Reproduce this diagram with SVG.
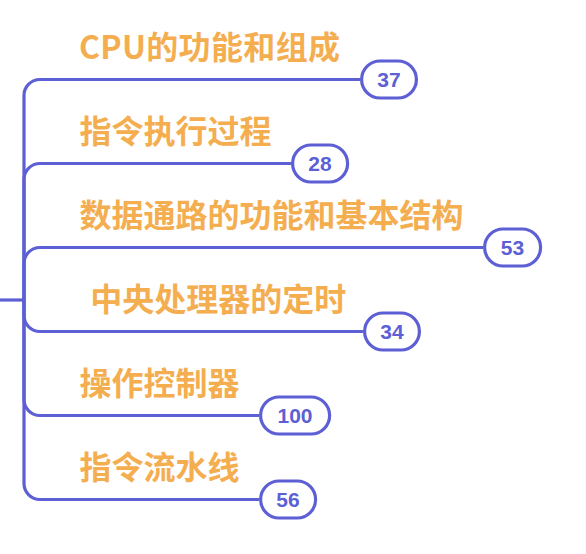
<svg xmlns="http://www.w3.org/2000/svg" width="586" height="554" viewBox="0 0 586 554">
<style>
.edge{fill:none;stroke:#5d5fd4;stroke-width:3.2;stroke-linecap:butt}
.topic{font-family:"Noto Sans CJK SC","Noto Sans",sans-serif;font-weight:700;font-size:32px;fill:#f4ae50;white-space:pre}
.pill{fill:#ffffff;stroke:#5d5fd4;stroke-width:3.2}
.num{font-family:"Liberation Sans",Arial,sans-serif;font-weight:700;font-size:21px;fill:#5d5fd4;text-anchor:middle}
</style>
<rect width="586" height="554" fill="#ffffff"/>
<g id="connectors">
<path class="edge" d="M0 300 H24"/>
<path class="edge" d="M24 300 V95.5 A16 16 0 0 1 40 79.5 H360"/>
<path class="edge" d="M24 300 V179.5 A16 16 0 0 1 40 163.5 H291"/>
<path class="edge" d="M24 300 V263.5 A16 16 0 0 1 40 247.5 H483"/>
<path class="edge" d="M24 300 V315.5 A16 16 0 0 0 40 331.5 H363"/>
<path class="edge" d="M24 300 V399.5 A16 16 0 0 0 40 415.5 H259"/>
<path class="edge" d="M24 300 V483.5 A16 16 0 0 0 40 499.5 H259"/>
</g>
<g id="node-cpu">
<text class="topic" x="79" y="59" textLength="261" lengthAdjust="spacing">CPU的功能和组成</text>
<rect class="pill" x="361.6" y="61" width="54.8" height="37" rx="18.5"/>
<text class="num" x="389" y="87">37</text>
</g>
<g id="node-exec">
<text class="topic" x="79.5" y="143">指令执行过程</text>
<rect class="pill" x="292.6" y="145" width="55" height="37" rx="18.5"/>
<text class="num" x="320" y="171">28</text>
</g>
<g id="node-datapath">
<text class="topic" x="79.5" y="227">数据通路的功能和基本结构</text>
<rect class="pill" x="484.6" y="229" width="56" height="37" rx="18.5"/>
<text class="num" x="512.5" y="255">53</text>
</g>
<g id="node-timing">
<text class="topic" x="83" y="311" xml:space="preserve"> 中央处理器的定时</text>
<rect class="pill" x="364.6" y="313" width="54.8" height="37" rx="18.5"/>
<text class="num" x="392" y="339">34</text>
</g>
<g id="node-control">
<text class="topic" x="79.5" y="395">操作控制器</text>
<rect class="pill" x="260.6" y="397" width="69" height="37" rx="18.5"/>
<text class="num" x="295" y="423">100</text>
</g>
<g id="node-pipeline">
<text class="topic" x="79.5" y="479">指令流水线</text>
<rect class="pill" x="260.6" y="481" width="55" height="37" rx="18.5"/>
<text class="num" x="288" y="507">56</text>
</g>
</svg>
